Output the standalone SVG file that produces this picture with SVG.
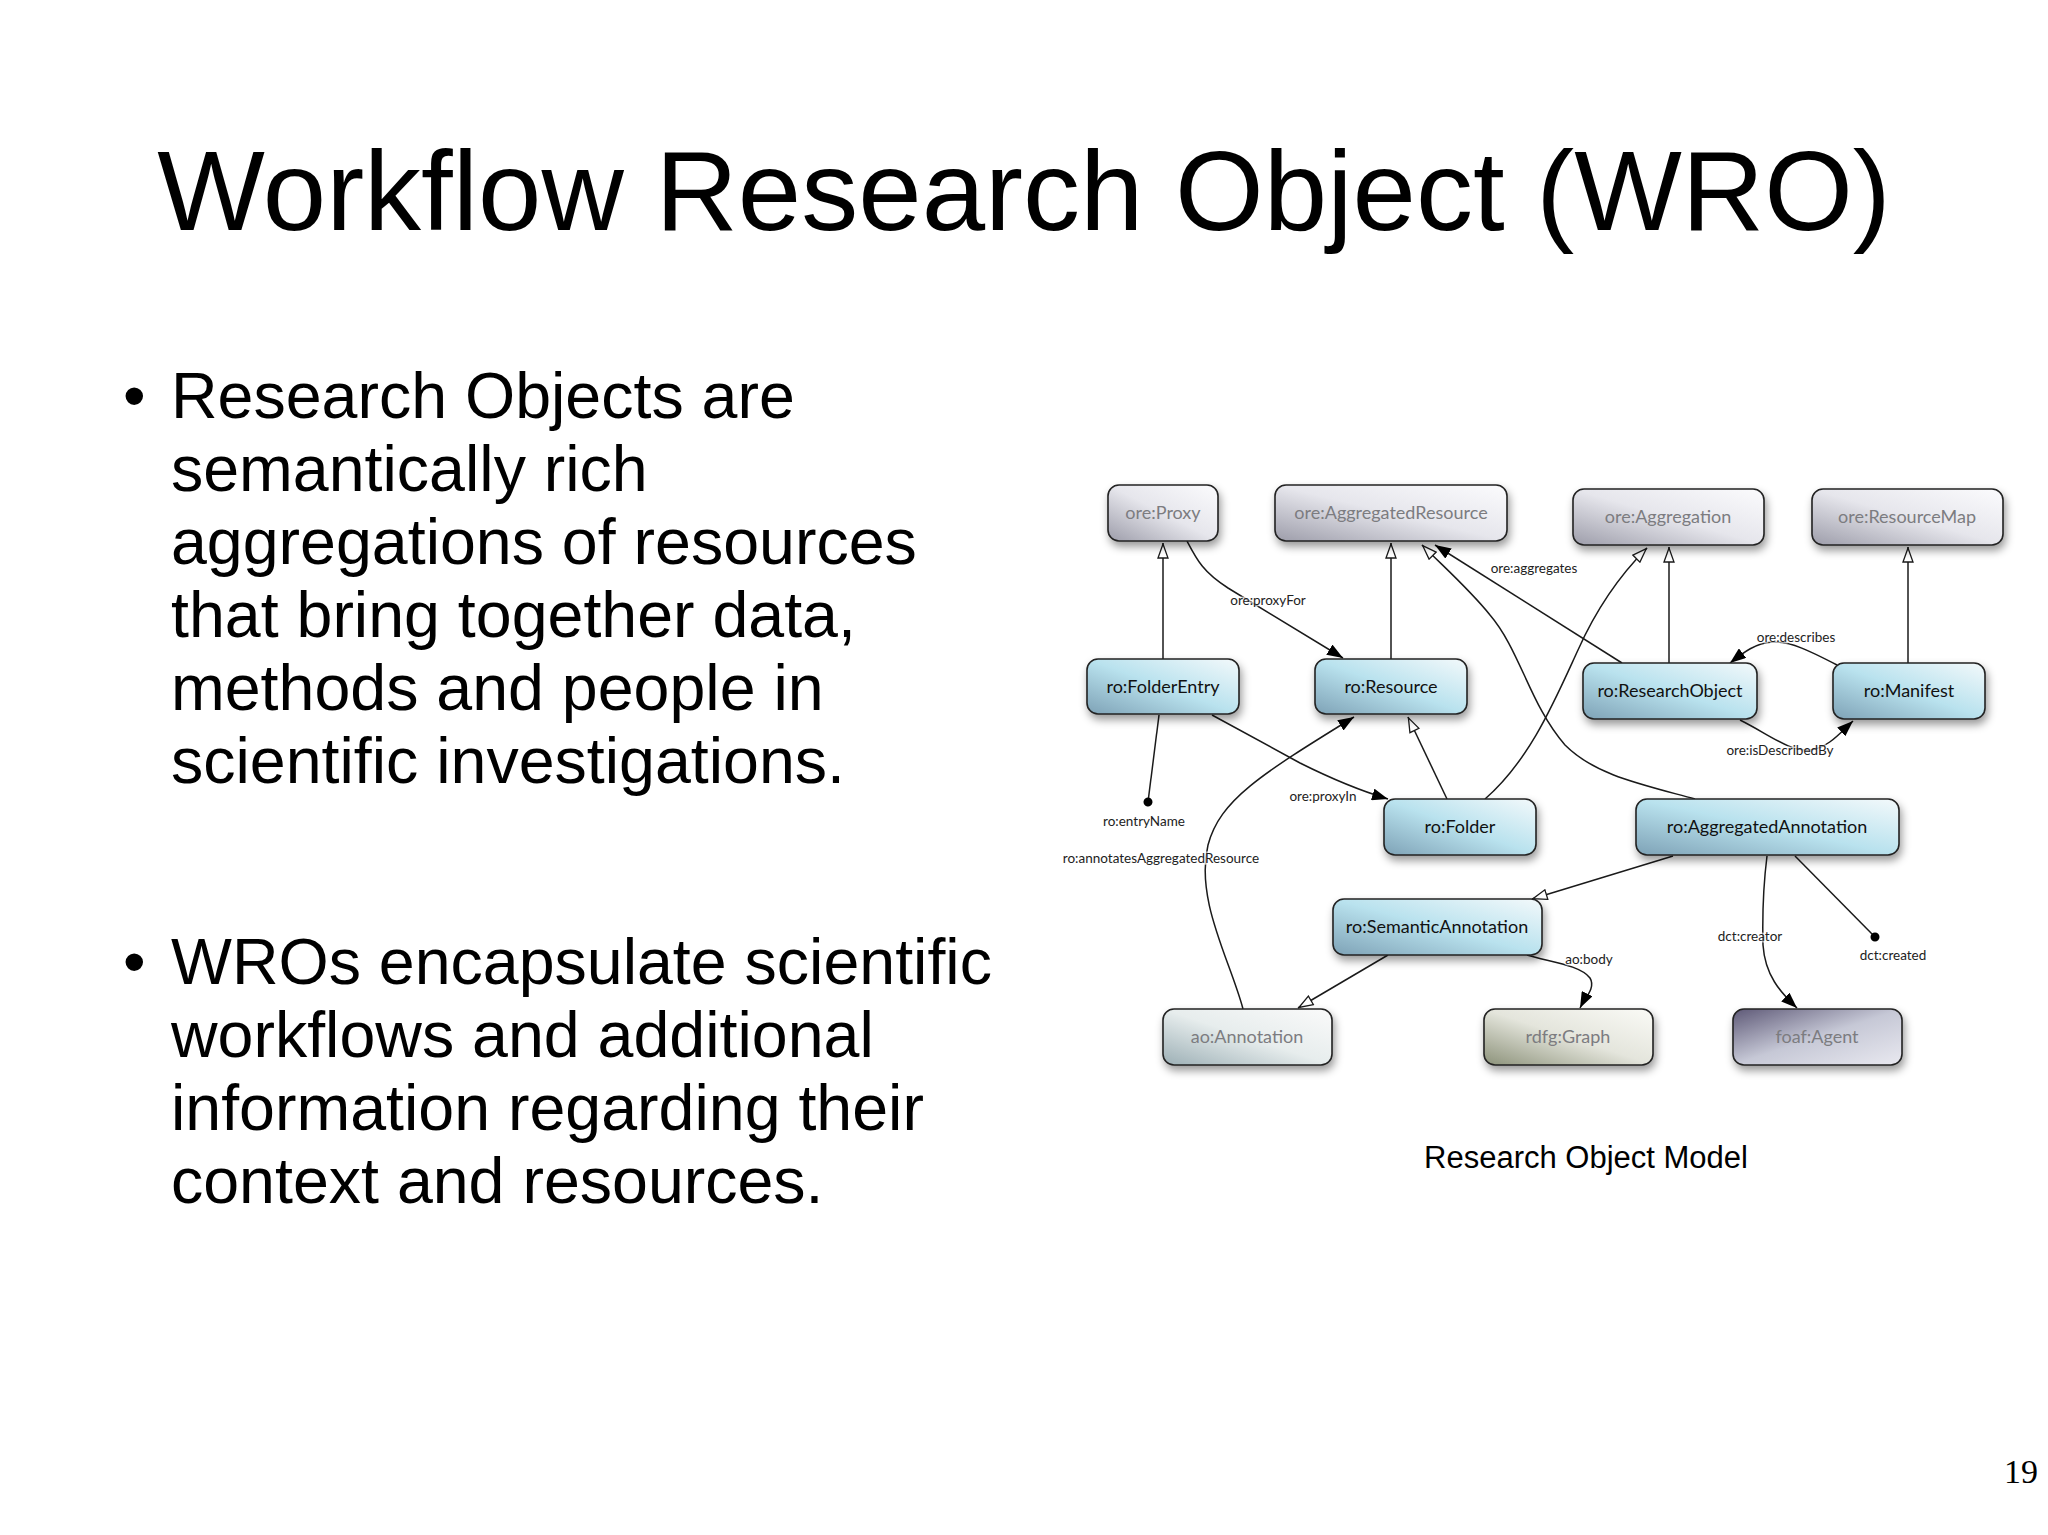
<svg xmlns="http://www.w3.org/2000/svg" width="2048" height="1535" viewBox="0 0 2048 1535">
<defs>
<style>
.title{font-family:"Liberation Sans",Arial,sans-serif;font-size:114px;fill:#000}
.body{font-family:"Liberation Sans",Arial,sans-serif;font-size:64.5px;fill:#000}
.cap{font-family:"Liberation Sans",Arial,sans-serif;font-size:31px;fill:#000}
.pg{font-family:"Liberation Serif","Times New Roman",serif;font-size:34px;fill:#000}
.box{stroke:#222;stroke-width:1.6}
.nt{font-family:Lato,"Open Sans",sans-serif;font-size:18px;text-anchor:middle}
.ro{fill:#111}
.ext{fill:#7c7c80}
.lbl{font-family:Lato,"Open Sans",sans-serif;font-size:13.5px;fill:#222;text-anchor:middle;paint-order:stroke;stroke:#fff;stroke-width:3px;stroke-opacity:0.6}
.e{fill:none;stroke:#1a1a1a;stroke-width:1.5}
.gen{marker-end:url(#hollow)}
.asc{marker-end:url(#filled)}
.dot{marker-end:url(#dot)}
</style>
<linearGradient id="gRo" x1="0" y1="1" x2="1" y2="0">
<stop offset="0" stop-color="#7ea2b6"/><stop offset="0.5" stop-color="#b9e2ee"/><stop offset="1" stop-color="#f3f9fb"/>
</linearGradient>
<linearGradient id="gOre" x1="0" y1="1" x2="1" y2="0">
<stop offset="0" stop-color="#9d9daa"/><stop offset="0.5" stop-color="#e6e6ec"/><stop offset="1" stop-color="#fbfbfd"/>
</linearGradient>
<linearGradient id="gAo" x1="0" y1="1" x2="1" y2="0">
<stop offset="0" stop-color="#9cafb5"/><stop offset="0.5" stop-color="#e7eded"/><stop offset="1" stop-color="#fafafa"/>
</linearGradient>
<linearGradient id="gRdfg" x1="0" y1="1" x2="1" y2="0">
<stop offset="0" stop-color="#8c927a"/><stop offset="0.5" stop-color="#e4e5dc"/><stop offset="1" stop-color="#fafaf6"/>
</linearGradient>
<linearGradient id="gFoaf" x1="0" y1="0" x2="1" y2="1">
<stop offset="0" stop-color="#5e5977"/><stop offset="0.5" stop-color="#c6c8d6"/><stop offset="1" stop-color="#e9e9f0"/>
</linearGradient>
<filter id="sh" x="-20%" y="-30%" width="140%" height="180%">
<feDropShadow dx="2" dy="5" stdDeviation="4" flood-color="#000" flood-opacity="0.4"/>
</filter>
<marker id="hollow" viewBox="0 0 16 12" refX="16" refY="6" markerWidth="16" markerHeight="12" markerUnits="userSpaceOnUse" orient="auto">
<path d="M1,1 L15,6 L1,11 z" fill="#fff" stroke="#1a1a1a" stroke-width="1.3"/>
</marker>
<marker id="filled" viewBox="0 0 16 12" refX="16" refY="6" markerWidth="16" markerHeight="12" markerUnits="userSpaceOnUse" orient="auto">
<path d="M0,0 L16,6 L0,12 z" fill="#000"/>
</marker>
<marker id="dot" viewBox="0 0 10 10" refX="5" refY="5" markerWidth="10" markerHeight="10" markerUnits="userSpaceOnUse" orient="auto">
<circle cx="5" cy="5" r="4.5" fill="#000"/>
</marker>
</defs>
<rect width="2048" height="1535" fill="#fff"/>

<text class="title" x="1024" y="230" text-anchor="middle">Workflow Research Object (WRO)</text>

<g id="bullets">
<text class="body" x="123" y="418">•</text>
<text class="body" x="171" y="418">Research Objects are</text>
<text class="body" x="171" y="491">semantically rich</text>
<text class="body" x="171" y="564">aggregations of resources</text>
<text class="body" x="171" y="637">that bring together data,</text>
<text class="body" x="171" y="710">methods and people in</text>
<text class="body" x="171" y="783">scientific investigations.</text>
<text class="body" x="123" y="984">•</text>
<text class="body" x="171" y="984">WROs encapsulate scientific</text>
<text class="body" x="171" y="1057">workflows and additional</text>
<text class="body" x="171" y="1130">information regarding their</text>
<text class="body" x="171" y="1203">context and resources.</text>
</g>

<g id="connectors">
<path class="e gen" d="M1163,659 L1163,543"/>
<path class="e gen" d="M1391,659 L1391,543"/>
<path class="e asc" d="M1187,541 C1197,560 1203,572 1228,588 L1343,658"/>
<path class="e gen" d="M1695,799 C1640,784 1595,775 1565,745 C1530,705 1520,650 1490,615 C1470,590 1445,568 1422,545"/>
<path class="e gen" d="M1485,799 C1530,760 1555,700 1578,650 C1595,612 1620,575 1647,548"/>
<path class="e asc" d="M1622,663 L1435,545"/>
<path class="e gen" d="M1669,663 L1669,547"/>
<path class="e gen" d="M1908,663 L1908,547"/>
<path class="e asc" d="M1837,665 C1810,651 1790,641 1772,642 C1756,643 1744,652 1730,663"/>
<path class="e asc" d="M1740,720 C1770,735 1790,752 1810,750 C1828,748 1840,733 1853,721"/>
<path class="e dot" d="M1159,715 L1148,802"/>
<path class="e asc" d="M1212,715 L1300,763 C1330,778 1358,790 1388,799"/>
<path class="e asc" d="M1243,1009 C1230,960 1195,900 1208,845 C1220,800 1260,775 1354,717"/>
<path class="e gen" d="M1447,799 L1408,717"/>
<path class="e gen" d="M1673,856 L1532,899"/>
<path class="e gen" d="M1388,955 L1298,1008"/>
<path class="e asc" d="M1527,955 C1550,962 1580,965 1590,978 C1596,988 1585,998 1580,1008"/>
<path class="e asc" d="M1767,856 C1764,880 1762,905 1763,945 C1765,975 1780,992 1797,1008"/>
<path class="e dot" d="M1795,856 L1875,937"/>
</g>

<g id="edge-labels">
<text class="lbl" x="1268" y="605">ore:proxyFor</text>
<text class="lbl" x="1534" y="573">ore:aggregates</text>
<text class="lbl" x="1796" y="642">ore:describes</text>
<text class="lbl" x="1780" y="755">ore:isDescribedBy</text>
<text class="lbl" x="1323" y="801">ore:proxyIn</text>
<text class="lbl" x="1144" y="826">ro:entryName</text>
<text class="lbl" x="1161" y="863">ro:annotatesAggregatedResource</text>
<text class="lbl" x="1750" y="941">dct:creator</text>
<text class="lbl" x="1893" y="960">dct:created</text>
<text class="lbl" x="1589" y="964">ao:body</text>
</g>

<g id="n-proxy"><rect class="box" x="1108" y="485" width="110" height="56" rx="11" fill="url(#gOre)" filter="url(#sh)"/><text class="nt ext" x="1163" y="519">ore:Proxy</text></g>
<g id="n-aggregatedresource"><rect class="box" x="1275" y="485" width="232" height="56" rx="11" fill="url(#gOre)" filter="url(#sh)"/><text class="nt ext" x="1391" y="519">ore:AggregatedResource</text></g>
<g id="n-aggregation"><rect class="box" x="1573" y="489" width="191" height="56" rx="11" fill="url(#gOre)" filter="url(#sh)"/><text class="nt ext" x="1668" y="523">ore:Aggregation</text></g>
<g id="n-resourcemap"><rect class="box" x="1812" y="489" width="191" height="56" rx="11" fill="url(#gOre)" filter="url(#sh)"/><text class="nt ext" x="1907" y="523">ore:ResourceMap</text></g>
<g id="n-folderentry"><rect class="box" x="1087" y="659" width="152" height="55" rx="11" fill="url(#gRo)" filter="url(#sh)"/><text class="nt ro" x="1163" y="693">ro:FolderEntry</text></g>
<g id="n-resource"><rect class="box" x="1315" y="659" width="152" height="55" rx="11" fill="url(#gRo)" filter="url(#sh)"/><text class="nt ro" x="1391" y="693">ro:Resource</text></g>
<g id="n-researchobject"><rect class="box" x="1583" y="663" width="174" height="56" rx="11" fill="url(#gRo)" filter="url(#sh)"/><text class="nt ro" x="1670" y="697">ro:ResearchObject</text></g>
<g id="n-manifest"><rect class="box" x="1833" y="663" width="152" height="56" rx="11" fill="url(#gRo)" filter="url(#sh)"/><text class="nt ro" x="1909" y="697">ro:Manifest</text></g>
<g id="n-folder"><rect class="box" x="1384" y="799" width="152" height="56" rx="11" fill="url(#gRo)" filter="url(#sh)"/><text class="nt ro" x="1460" y="833">ro:Folder</text></g>
<g id="n-aggregatedannotation"><rect class="box" x="1636" y="799" width="263" height="56" rx="11" fill="url(#gRo)" filter="url(#sh)"/><text class="nt ro" x="1767" y="833">ro:AggregatedAnnotation</text></g>
<g id="n-semanticannotation"><rect class="box" x="1333" y="899" width="209" height="56" rx="11" fill="url(#gRo)" filter="url(#sh)"/><text class="nt ro" x="1437" y="933">ro:SemanticAnnotation</text></g>
<g id="n-annotation"><rect class="box" x="1163" y="1009" width="169" height="56" rx="11" fill="url(#gAo)" filter="url(#sh)"/><text class="nt ext" x="1247" y="1043">ao:Annotation</text></g>
<g id="n-graph"><rect class="box" x="1484" y="1009" width="169" height="56" rx="11" fill="url(#gRdfg)" filter="url(#sh)"/><text class="nt ext" x="1568" y="1043">rdfg:Graph</text></g>
<g id="n-agent"><rect class="box" x="1733" y="1009" width="169" height="56" rx="11" fill="url(#gFoaf)" filter="url(#sh)"/><text class="nt ext" x="1817" y="1043">foaf:Agent</text></g>

<text class="cap" x="1586" y="1168" text-anchor="middle">Research Object Model</text>
<text class="pg" x="2038" y="1483" text-anchor="end">19</text>
</svg>
